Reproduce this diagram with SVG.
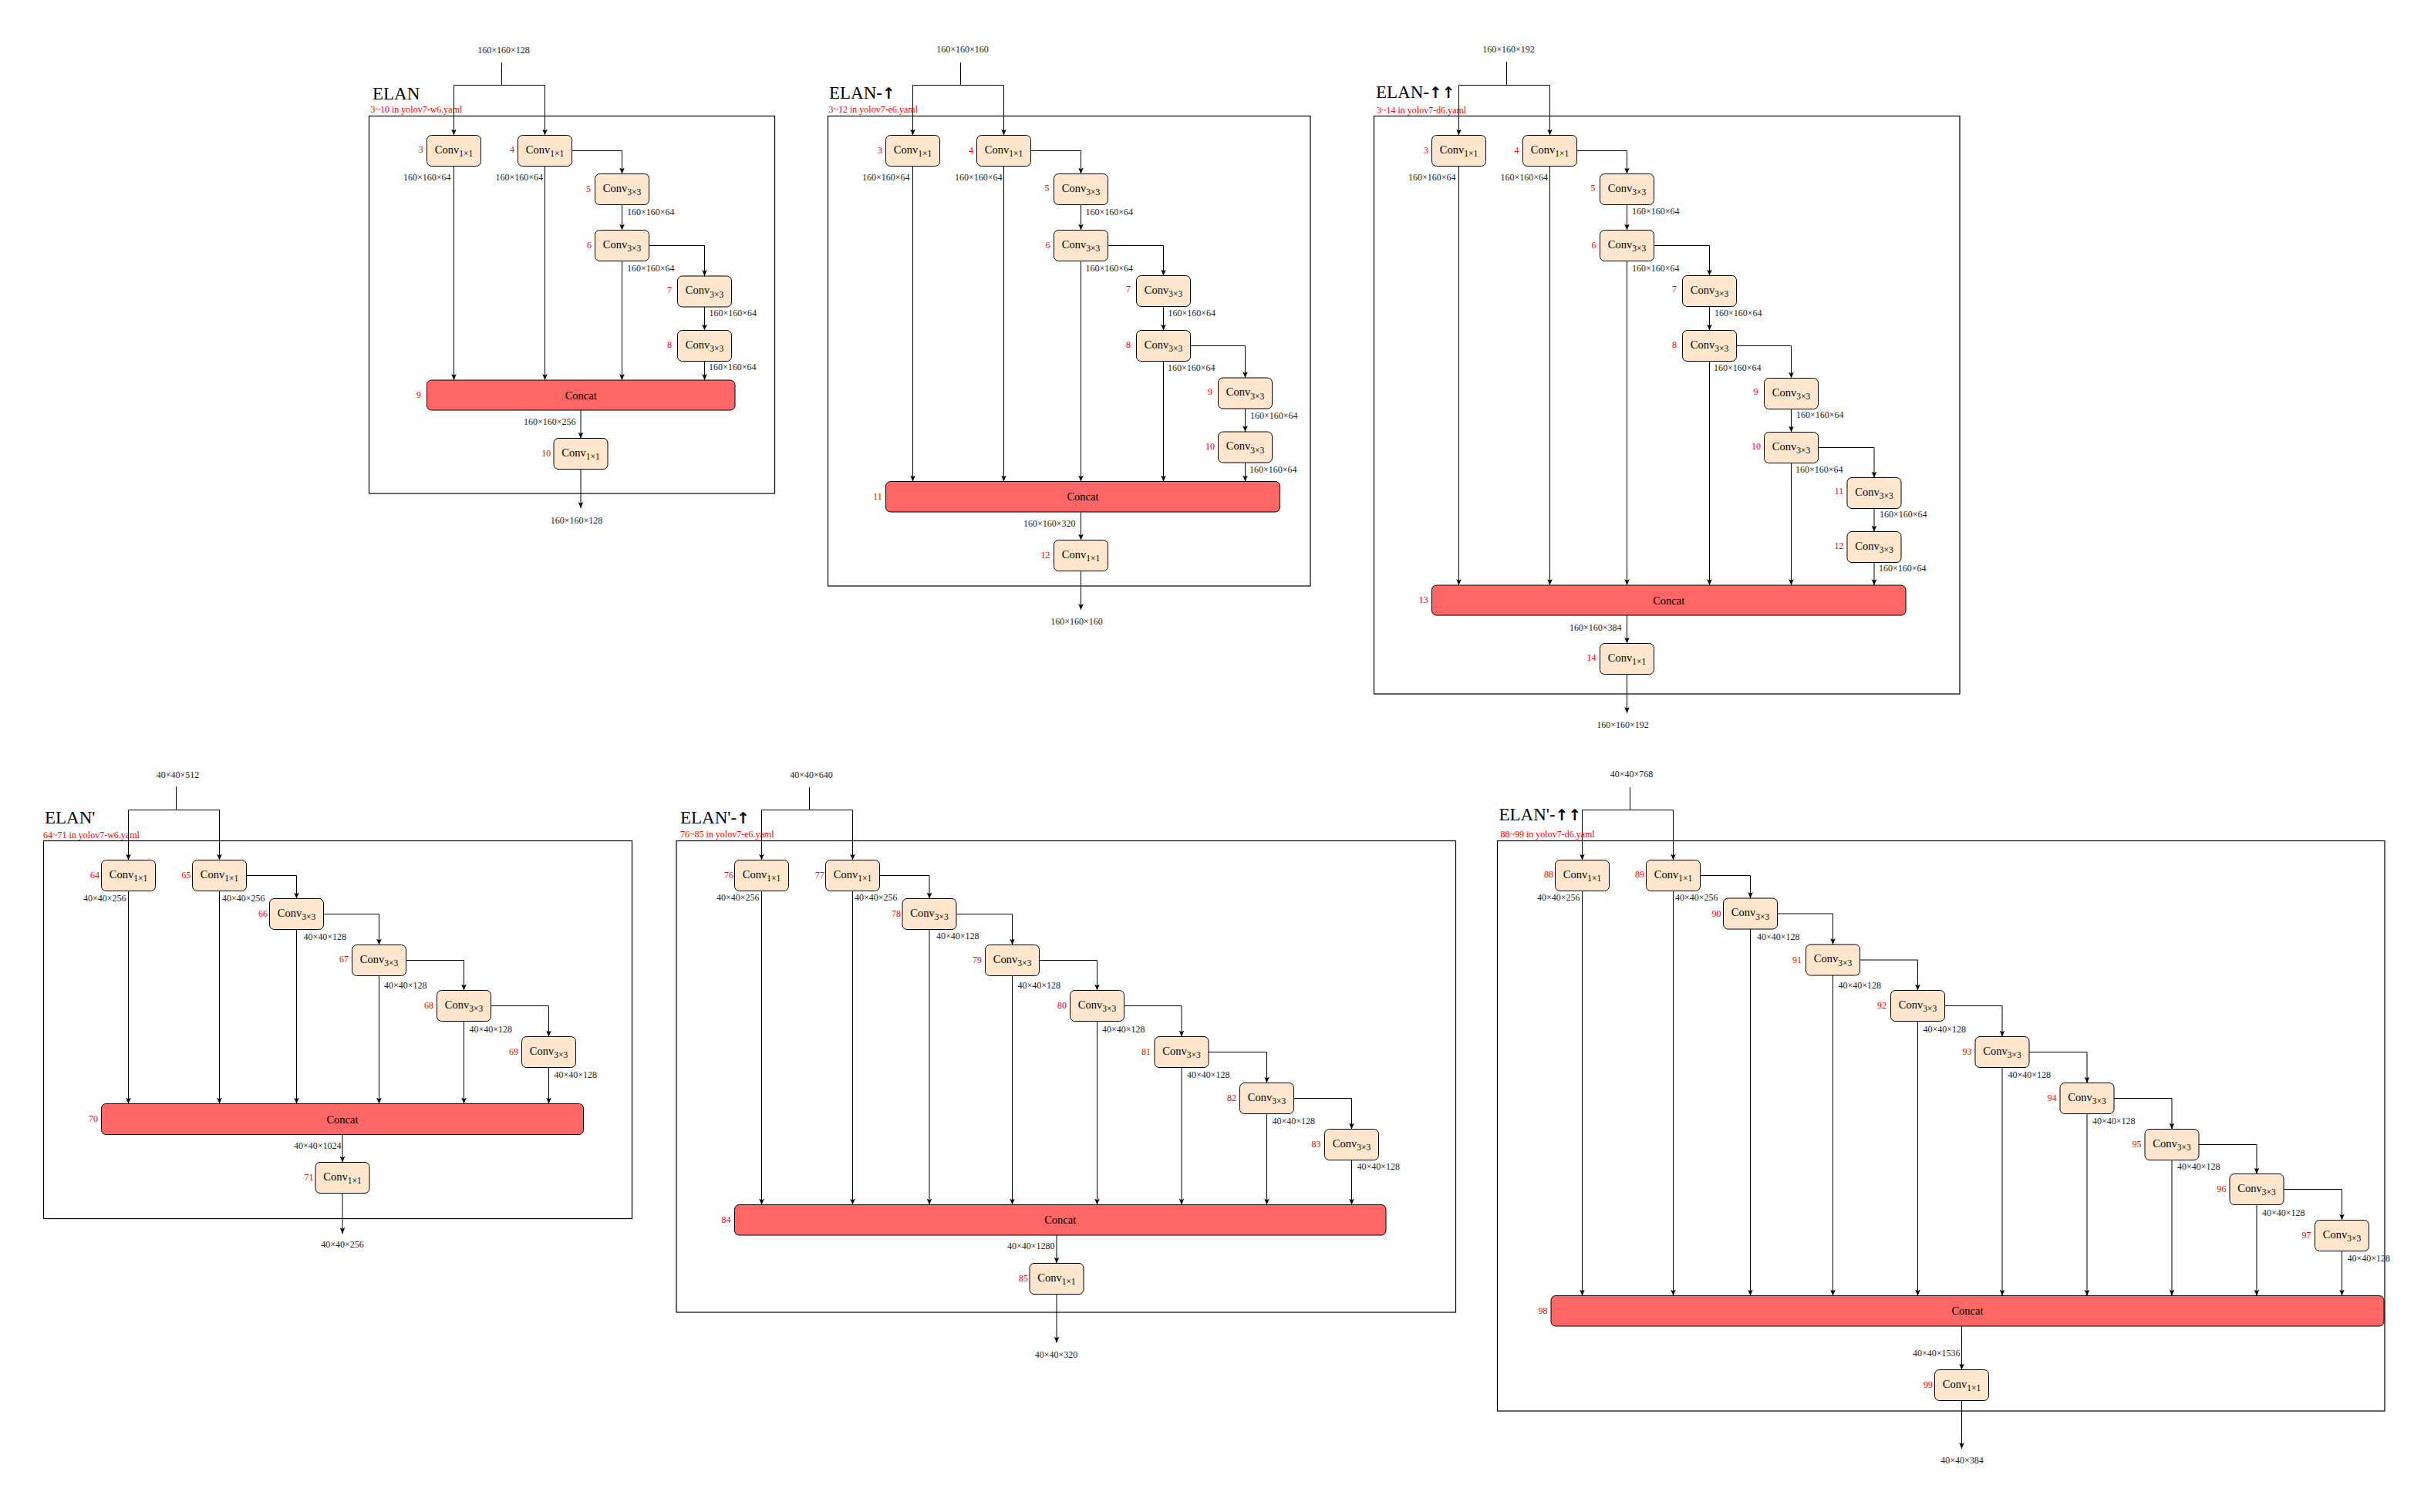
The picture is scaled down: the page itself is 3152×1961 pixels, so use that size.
<svg xmlns="http://www.w3.org/2000/svg" width="3152" height="1961" viewBox="0 0 3152 1961">
<style>
text{font-family:"Liberation Serif","Times New Roman",serif}
.bx{fill:#FFE6CC;stroke:#000;stroke-width:1}
.ct{fill:#FF6666;stroke:#000;stroke-width:1}
.pn{fill:none;stroke:#000;stroke-width:1.2}
.c{font-size:14.5px;fill:#000;text-anchor:middle}
.sb{font-size:11.5px}
.d{font-size:12px;fill:#222}
.de{font-size:12px;fill:#222;text-anchor:end}
.dm{font-size:12px;fill:#222;text-anchor:middle}
.r{font-size:12px;fill:#FF0000;text-anchor:middle}
.s{font-size:12px;fill:#FF0000}
.h{font-size:23px;fill:#000}
.ar{font-weight:bold;font-family:"DejaVu Sans",sans-serif;font-size:20px}
.e{fill:none;stroke:#000;stroke-width:1}
.a{marker-end:url(#ah)}
</style>
<defs>
<marker id="ah" viewBox="0 0 10 10" refX="10" refY="5" markerWidth="8" markerHeight="8" markerUnits="userSpaceOnUse" orient="auto"><path d="M0,0.8 L10,5 L0,9.2 L2.5,5 Z" fill="#000"/></marker>
</defs>
<rect width="3152" height="1961" fill="#fff"/>

<!-- ============ PANEL 1: ELAN ============ -->
<g id="elan">
<rect class="pn" x="478.5" y="150.5" width="526" height="489.5"/>
<text class="h" x="483" y="129">ELAN</text>
<text class="s" x="480.5" y="146">3~10 in yolov7-w6.yaml</text>
<text class="dm" x="653" y="68.5">160×160×128</text>
<text class="dm" x="747.5" y="678.5">160×160×128</text>
</g>
<g id="elan-3"><rect class="bx" x="553.5" y="175.5" width="70" height="40" rx="6"/><text class="c" x="588.5" y="198.5">Conv<tspan class="sb" dy="4.5">1×1</tspan></text><text class="r" x="545.7" y="198">3</text><text class="de" x="584.5" y="233.5">160×160×64</text></g>
<g id="elan-4"><rect class="bx" x="671.5" y="175.5" width="70" height="40" rx="6"/><text class="c" x="706.5" y="198.5">Conv<tspan class="sb" dy="4.5">1×1</tspan></text><text class="r" x="664" y="198">4</text><text class="de" x="704" y="233.5">160×160×64</text></g>
<g id="elan-5"><rect class="bx" x="771.5" y="225.5" width="70" height="40" rx="6"/><text class="c" x="806.5" y="248.5">Conv<tspan class="sb" dy="4.5">3×3</tspan></text><text class="r" x="763" y="248.5">5</text><text class="d" x="813" y="278.5">160×160×64</text></g>
<g id="elan-6"><rect class="bx" x="771.5" y="298.5" width="70" height="40" rx="6"/><text class="c" x="806.5" y="321.5">Conv<tspan class="sb" dy="4.5">3×3</tspan></text><text class="r" x="764" y="321.5">6</text><text class="d" x="813" y="351.5">160×160×64</text></g>
<g id="elan-7"><rect class="bx" x="878.5" y="358" width="70" height="40" rx="6"/><text class="c" x="913.5" y="381">Conv<tspan class="sb" dy="4.5">3×3</tspan></text><text class="r" x="868" y="379.5">7</text><text class="d" x="919.5" y="409.5">160×160×64</text></g>
<g id="elan-8"><rect class="bx" x="878.5" y="428.5" width="70" height="40" rx="6"/><text class="c" x="913.5" y="451.5">Conv<tspan class="sb" dy="4.5">3×3</tspan></text><text class="r" x="868" y="451">8</text><text class="d" x="919" y="480">160×160×64</text></g>
<g id="elan-9"><rect class="ct" x="553.5" y="493" width="399.5" height="39" rx="6"/><text class="c" x="753.25" y="517.5">Concat</text><text class="r" x="543" y="515.5">9</text><text class="de" x="746.5" y="551">160×160×256</text></g>
<g id="elan-10"><rect class="bx" x="718" y="568.5" width="70" height="40" rx="6"/><text class="c" x="753" y="591.5">Conv<tspan class="sb" dy="4.5">1×1</tspan></text><text class="r" x="708.2" y="591.5">10</text></g>

<!-- ============ PANEL 2: ELAN-↑ ============ -->
<g id="elan-up">
<rect class="pn" x="1073.5" y="150.5" width="625.5" height="609.5"/>
<text class="h" x="1075" y="127.5">ELAN-<tspan class="ar">↑</tspan></text>
<text class="s" x="1074.5" y="145.5">3~12 in yolov7-e6.yaml</text>
<text class="dm" x="1248" y="68">160×160×160</text>
<text class="dm" x="1396" y="810">160×160×160</text>
</g>
<g id="elanup-3"><rect class="bx" x="1148.5" y="175.5" width="70" height="40" rx="6"/><text class="c" x="1183.5" y="198.5">Conv<tspan class="sb" dy="4.5">1×1</tspan></text><text class="r" x="1141" y="198.5">3</text><text class="de" x="1179.5" y="233.5">160×160×64</text></g>
<g id="elanup-4"><rect class="bx" x="1266.5" y="175.5" width="70" height="40" rx="6"/><text class="c" x="1301.5" y="198.5">Conv<tspan class="sb" dy="4.5">1×1</tspan></text><text class="r" x="1259" y="198.5">4</text><text class="de" x="1299.5" y="233.5">160×160×64</text></g>
<g id="elanup-5"><rect class="bx" x="1366.5" y="225.5" width="70" height="40" rx="6"/><text class="c" x="1401.5" y="248.5">Conv<tspan class="sb" dy="4.5">3×3</tspan></text><text class="r" x="1357.5" y="248">5</text><text class="d" x="1407.5" y="278.5">160×160×64</text></g>
<g id="elanup-6"><rect class="bx" x="1366.5" y="298.5" width="70" height="40" rx="6"/><text class="c" x="1401.5" y="321.5">Conv<tspan class="sb" dy="4.5">3×3</tspan></text><text class="r" x="1358.5" y="321.5">6</text><text class="d" x="1407.5" y="351.5">160×160×64</text></g>
<g id="elanup-7"><rect class="bx" x="1473.5" y="357.5" width="70" height="40" rx="6"/><text class="c" x="1508.5" y="380.5">Conv<tspan class="sb" dy="4.5">3×3</tspan></text><text class="r" x="1463" y="379">7</text><text class="d" x="1514.5" y="409.5">160×160×64</text></g>
<g id="elanup-8"><rect class="bx" x="1473.5" y="428.5" width="70" height="40" rx="6"/><text class="c" x="1508.5" y="451.5">Conv<tspan class="sb" dy="4.5">3×3</tspan></text><text class="r" x="1463" y="451">8</text><text class="d" x="1514" y="480.5">160×160×64</text></g>
<g id="elanup-9"><rect class="bx" x="1579.5" y="490" width="70" height="40" rx="6"/><text class="c" x="1614.5" y="513">Conv<tspan class="sb" dy="4.5">3×3</tspan></text><text class="r" x="1569" y="511.5">9</text><text class="d" x="1621" y="542.5">160×160×64</text></g>
<g id="elanup-10"><rect class="bx" x="1579.5" y="560" width="70" height="40" rx="6"/><text class="c" x="1614.5" y="583">Conv<tspan class="sb" dy="4.5">3×3</tspan></text><text class="r" x="1569" y="583">10</text><text class="d" x="1620" y="612.5">160×160×64</text></g>
<g id="elanup-11"><rect class="ct" x="1148.5" y="624.5" width="511" height="39.5" rx="6"/><text class="c" x="1404" y="649">Concat</text><text class="r" x="1138" y="647.5">11</text><text class="de" x="1394.5" y="683">160×160×320</text></g>
<g id="elanup-12"><rect class="bx" x="1366.5" y="700.5" width="70" height="40" rx="6"/><text class="c" x="1401.5" y="723.5">Conv<tspan class="sb" dy="4.5">1×1</tspan></text><text class="r" x="1355.5" y="723.5">12</text></g>

<!-- ============ PANEL 3: ELAN-↑↑ ============ -->
<g id="elan-upup">
<rect class="pn" x="1781.5" y="150.5" width="759.5" height="749.5"/>
<text class="h" x="1784" y="127">ELAN-<tspan class="ar">↑↑</tspan></text>
<text class="s" x="1785" y="146.5">3~14 in yolov7-d6.yaml</text>
<text class="dm" x="1956" y="68">160×160×192</text>
<text class="dm" x="2104" y="943.5">160×160×192</text>
</g>
<g id="elanupup-3"><rect class="bx" x="1856.5" y="175.5" width="70" height="40" rx="6"/><text class="c" x="1891.5" y="198.5">Conv<tspan class="sb" dy="4.5">1×1</tspan></text><text class="r" x="1849" y="198.5">3</text><text class="de" x="1887.5" y="233.5">160×160×64</text></g>
<g id="elanupup-4"><rect class="bx" x="1974.5" y="175.5" width="70" height="40" rx="6"/><text class="c" x="2009.5" y="198.5">Conv<tspan class="sb" dy="4.5">1×1</tspan></text><text class="r" x="1966.5" y="198.5">4</text><text class="de" x="2007" y="233.5">160×160×64</text></g>
<g id="elanupup-5"><rect class="bx" x="2074.5" y="225.5" width="70" height="40" rx="6"/><text class="c" x="2109.5" y="248.5">Conv<tspan class="sb" dy="4.5">3×3</tspan></text><text class="r" x="2065.5" y="248">5</text><text class="d" x="2116" y="278">160×160×64</text></g>
<g id="elanupup-6"><rect class="bx" x="2074.5" y="298.5" width="70" height="40" rx="6"/><text class="c" x="2109.5" y="321.5">Conv<tspan class="sb" dy="4.5">3×3</tspan></text><text class="r" x="2066.5" y="321.5">6</text><text class="d" x="2116" y="351.5">160×160×64</text></g>
<g id="elanupup-7"><rect class="bx" x="2181.5" y="357.5" width="70" height="40" rx="6"/><text class="c" x="2216.5" y="380.5">Conv<tspan class="sb" dy="4.5">3×3</tspan></text><text class="r" x="2171" y="379">7</text><text class="d" x="2223" y="409.5">160×160×64</text></g>
<g id="elanupup-8"><rect class="bx" x="2181.5" y="428.5" width="70" height="40" rx="6"/><text class="c" x="2216.5" y="451.5">Conv<tspan class="sb" dy="4.5">3×3</tspan></text><text class="r" x="2171" y="451">8</text><text class="d" x="2222" y="480.5">160×160×64</text></g>
<g id="elanupup-9"><rect class="bx" x="2287.5" y="490.5" width="70" height="40" rx="6"/><text class="c" x="2322.5" y="513.5">Conv<tspan class="sb" dy="4.5">3×3</tspan></text><text class="r" x="2276.5" y="512">9</text><text class="d" x="2329" y="542">160×160×64</text></g>
<g id="elanupup-10"><rect class="bx" x="2287.5" y="560.5" width="70" height="40" rx="6"/><text class="c" x="2322.5" y="583.5">Conv<tspan class="sb" dy="4.5">3×3</tspan></text><text class="r" x="2277" y="583">10</text><text class="d" x="2328" y="612.5">160×160×64</text></g>
<g id="elanupup-11"><rect class="bx" x="2395" y="619.5" width="70" height="40" rx="6"/><text class="c" x="2430" y="642.5">Conv<tspan class="sb" dy="4.5">3×3</tspan></text><text class="r" x="2384.5" y="641">11</text><text class="d" x="2437" y="671">160×160×64</text></g>
<g id="elanupup-12"><rect class="bx" x="2395" y="689.5" width="70" height="40" rx="6"/><text class="c" x="2430" y="712.5">Conv<tspan class="sb" dy="4.5">3×3</tspan></text><text class="r" x="2384.5" y="712">12</text><text class="d" x="2436" y="741">160×160×64</text></g>
<g id="elanupup-13"><rect class="ct" x="1856.5" y="759" width="614.5" height="39" rx="6"/><text class="c" x="2163.75" y="783.5">Concat</text><text class="r" x="1845.5" y="781.5">13</text><text class="de" x="2102.5" y="817.5">160×160×384</text></g>
<g id="elanupup-14"><rect class="bx" x="2074.5" y="834.5" width="70" height="40" rx="6"/><text class="c" x="2109.5" y="857.5">Conv<tspan class="sb" dy="4.5">1×1</tspan></text><text class="r" x="2063.5" y="857">14</text></g>

<!-- ============ PANEL 4: ELAN' ============ -->
<g id="elanp">
<rect class="pn" x="56.5" y="1090.5" width="763" height="490"/>
<text class="h" x="58" y="1068">ELAN'</text>
<text class="s" x="56" y="1087">64~71 in yolov7-w6.yaml</text>
<text class="dm" x="230.5" y="1009">40×40×512</text>
<text class="dm" x="444" y="1618">40×40×256</text>
</g>
<g id="elanp-64"><rect class="bx" x="131.5" y="1115.5" width="70" height="40" rx="6"/><text class="c" x="166.5" y="1138.5">Conv<tspan class="sb" dy="4.5">1×1</tspan></text><text class="r" x="123" y="1138.5">64</text><text class="de" x="163.5" y="1168.5">40×40×256</text></g>
<g id="elanp-65"><rect class="bx" x="249.5" y="1115.5" width="70" height="40" rx="6"/><text class="c" x="284.5" y="1138.5">Conv<tspan class="sb" dy="4.5">1×1</tspan></text><text class="r" x="241.5" y="1138.5">65</text><text class="d" x="288" y="1168.5">40×40×256</text></g>
<g id="elanp-66"><rect class="bx" x="349.5" y="1165.5" width="70" height="40" rx="6"/><text class="c" x="384.5" y="1188.5">Conv<tspan class="sb" dy="4.5">3×3</tspan></text><text class="r" x="341" y="1188.5">66</text><text class="d" x="393.5" y="1218.5">40×40×128</text></g>
<g id="elanp-67"><rect class="bx" x="456.5" y="1225.5" width="70" height="40" rx="6"/><text class="c" x="491.5" y="1248.5">Conv<tspan class="sb" dy="4.5">3×3</tspan></text><text class="r" x="446" y="1248">67</text><text class="d" x="498" y="1281.5">40×40×128</text></g>
<g id="elanp-68"><rect class="bx" x="566.5" y="1284.5" width="70" height="40" rx="6"/><text class="c" x="601.5" y="1307.5">Conv<tspan class="sb" dy="4.5">3×3</tspan></text><text class="r" x="556" y="1308">68</text><text class="d" x="608.5" y="1338.5">40×40×128</text></g>
<g id="elanp-69"><rect class="bx" x="676.5" y="1344.5" width="70" height="40" rx="6"/><text class="c" x="711.5" y="1367.5">Conv<tspan class="sb" dy="4.5">3×3</tspan></text><text class="r" x="666" y="1367.5">69</text><text class="d" x="718.5" y="1397.5">40×40×128</text></g>
<g id="elanp-70"><rect class="ct" x="131.5" y="1431.5" width="625" height="40" rx="6"/><text class="c" x="444" y="1456.5">Concat</text><text class="r" x="121" y="1455">70</text><text class="de" x="442.5" y="1489.5">40×40×1024</text></g>
<g id="elanp-71"><rect class="bx" x="409" y="1507.5" width="70" height="40" rx="6"/><text class="c" x="444" y="1530.5">Conv<tspan class="sb" dy="4.5">1×1</tspan></text><text class="r" x="400.5" y="1530.5">71</text></g>

<!-- ============ PANEL 5: ELAN'-↑ ============ -->
<g id="elanp-up">
<rect class="pn" x="877" y="1090.5" width="1010.5" height="611.5"/>
<text class="h" x="882" y="1067.5">ELAN'-<tspan class="ar">↑</tspan></text>
<text class="s" x="882" y="1086">76~85 in yolov7-e6.yaml</text>
<text class="dm" x="1052" y="1008.5">40×40×640</text>
<text class="dm" x="1369.5" y="1760.5">40×40×320</text>
</g>
<g id="elanpup-76"><rect class="bx" x="952.5" y="1115.5" width="70" height="40" rx="6"/><text class="c" x="987.5" y="1138.5">Conv<tspan class="sb" dy="4.5">1×1</tspan></text><text class="r" x="945" y="1138.5">76</text><text class="de" x="984.5" y="1168">40×40×256</text></g>
<g id="elanpup-77"><rect class="bx" x="1070.5" y="1115.5" width="70" height="40" rx="6"/><text class="c" x="1105.5" y="1138.5">Conv<tspan class="sb" dy="4.5">1×1</tspan></text><text class="r" x="1063" y="1138.5">77</text><text class="d" x="1108" y="1168">40×40×256</text></g>
<g id="elanpup-78"><rect class="bx" x="1170" y="1165.5" width="70" height="40" rx="6"/><text class="c" x="1205" y="1188.5">Conv<tspan class="sb" dy="4.5">3×3</tspan></text><text class="r" x="1162" y="1188.5">78</text><text class="d" x="1214" y="1218">40×40×128</text></g>
<g id="elanpup-79"><rect class="bx" x="1277.5" y="1225.5" width="70" height="40" rx="6"/><text class="c" x="1312.5" y="1248.5">Conv<tspan class="sb" dy="4.5">3×3</tspan></text><text class="r" x="1267" y="1248.5">79</text><text class="d" x="1319.5" y="1281.5">40×40×128</text></g>
<g id="elanpup-80"><rect class="bx" x="1387.5" y="1284.5" width="70" height="40" rx="6"/><text class="c" x="1422.5" y="1307.5">Conv<tspan class="sb" dy="4.5">3×3</tspan></text><text class="r" x="1377" y="1307.5">80</text><text class="d" x="1429" y="1338.5">40×40×128</text></g>
<g id="elanpup-81"><rect class="bx" x="1497" y="1344.5" width="70" height="40" rx="6"/><text class="c" x="1532" y="1367.5">Conv<tspan class="sb" dy="4.5">3×3</tspan></text><text class="r" x="1486" y="1367.5">81</text><text class="d" x="1539" y="1397.5">40×40×128</text></g>
<g id="elanpup-82"><rect class="bx" x="1607.5" y="1404.5" width="70" height="40" rx="6"/><text class="c" x="1642.5" y="1427.5">Conv<tspan class="sb" dy="4.5">3×3</tspan></text><text class="r" x="1597" y="1428">82</text><text class="d" x="1649.5" y="1458">40×40×128</text></g>
<g id="elanpup-83"><rect class="bx" x="1717.5" y="1464.5" width="70" height="40" rx="6"/><text class="c" x="1752.5" y="1487.5">Conv<tspan class="sb" dy="4.5">3×3</tspan></text><text class="r" x="1706.5" y="1487.5">83</text><text class="d" x="1759.5" y="1517">40×40×128</text></g>
<g id="elanpup-84"><rect class="ct" x="952.5" y="1562.5" width="844.5" height="39.5" rx="6"/><text class="c" x="1374.75" y="1587">Concat</text><text class="r" x="941.5" y="1586">84</text><text class="de" x="1367.5" y="1620">40×40×1280</text></g>
<g id="elanpup-85"><rect class="bx" x="1335" y="1638.5" width="70" height="40" rx="6"/><text class="c" x="1370" y="1661.5">Conv<tspan class="sb" dy="4.5">1×1</tspan></text><text class="r" x="1327" y="1661.5">85</text></g>

<!-- ============ PANEL 6: ELAN'-↑↑ ============ -->
<g id="elanp-upup">
<rect class="pn" x="1941.5" y="1090.5" width="1150.5" height="739.5"/>
<text class="h" x="1943.5" y="1063.5">ELAN'-<tspan class="ar">↑↑</tspan></text>
<text class="s" x="1945.5" y="1086">88~99 in yolov7-d6.yaml</text>
<text class="dm" x="2115.5" y="1008">40×40×768</text>
<text class="dm" x="2544" y="1898">40×40×384</text>
</g>
<g id="elanpupup-88"><rect class="bx" x="2016.5" y="1115.5" width="70" height="40" rx="6"/><text class="c" x="2051.5" y="1138.5">Conv<tspan class="sb" dy="4.5">1×1</tspan></text><text class="r" x="2008" y="1138">88</text><text class="de" x="2048.5" y="1168">40×40×256</text></g>
<g id="elanpupup-89"><rect class="bx" x="2134.5" y="1115.5" width="70" height="40" rx="6"/><text class="c" x="2169.5" y="1138.5">Conv<tspan class="sb" dy="4.5">1×1</tspan></text><text class="r" x="2126" y="1138">89</text><text class="d" x="2172" y="1168">40×40×256</text></g>
<g id="elanpupup-90"><rect class="bx" x="2234.5" y="1165" width="70" height="40" rx="6"/><text class="c" x="2269.5" y="1188">Conv<tspan class="sb" dy="4.5">3×3</tspan></text><text class="r" x="2225.5" y="1188.5">90</text><text class="d" x="2278" y="1218.5">40×40×128</text></g>
<g id="elanpupup-91"><rect class="bx" x="2341.5" y="1225" width="70" height="40" rx="6"/><text class="c" x="2376.5" y="1248">Conv<tspan class="sb" dy="4.5">3×3</tspan></text><text class="r" x="2330" y="1248.5">91</text><text class="d" x="2383.5" y="1281.5">40×40×128</text></g>
<g id="elanpupup-92"><rect class="bx" x="2451.5" y="1284.5" width="70" height="40" rx="6"/><text class="c" x="2486.5" y="1307.5">Conv<tspan class="sb" dy="4.5">3×3</tspan></text><text class="r" x="2440" y="1307.5">92</text><text class="d" x="2493.5" y="1338.5">40×40×128</text></g>
<g id="elanpupup-93"><rect class="bx" x="2561" y="1344.5" width="70" height="40" rx="6"/><text class="c" x="2596" y="1367.5">Conv<tspan class="sb" dy="4.5">3×3</tspan></text><text class="r" x="2550.5" y="1367.5">93</text><text class="d" x="2603.5" y="1397.5">40×40×128</text></g>
<g id="elanpupup-94"><rect class="bx" x="2671" y="1404.5" width="70" height="40" rx="6"/><text class="c" x="2706" y="1427.5">Conv<tspan class="sb" dy="4.5">3×3</tspan></text><text class="r" x="2660.5" y="1427.5">94</text><text class="d" x="2713" y="1458">40×40×128</text></g>
<g id="elanpupup-95"><rect class="bx" x="2781" y="1464.5" width="70" height="40" rx="6"/><text class="c" x="2816" y="1487.5">Conv<tspan class="sb" dy="4.5">3×3</tspan></text><text class="r" x="2770.5" y="1487.5">95</text><text class="d" x="2823" y="1517">40×40×128</text></g>
<g id="elanpupup-96"><rect class="bx" x="2891" y="1522.5" width="70" height="40" rx="6"/><text class="c" x="2926" y="1545.5">Conv<tspan class="sb" dy="4.5">3×3</tspan></text><text class="r" x="2880.5" y="1545.5">96</text><text class="d" x="2933" y="1576.5">40×40×128</text></g>
<g id="elanpupup-97"><rect class="bx" x="3001.5" y="1582.5" width="70" height="40" rx="6"/><text class="c" x="3036.5" y="1605.5">Conv<tspan class="sb" dy="4.5">3×3</tspan></text><text class="r" x="2990.5" y="1605.5">97</text><text class="d" x="3043.5" y="1635.5">40×40×128</text></g>
<g id="elanpupup-98"><rect class="ct" x="2011" y="1680.5" width="1080" height="39.5" rx="6"/><text class="c" x="2551" y="1705">Concat</text><text class="r" x="2000.5" y="1703.5">98</text><text class="de" x="2541.5" y="1758.5">40×40×1536</text></g>
<g id="elanpupup-99"><rect class="bx" x="2508.5" y="1776.5" width="70" height="40" rx="6"/><text class="c" x="2543.5" y="1799.5">Conv<tspan class="sb" dy="4.5">1×1</tspan></text><text class="r" x="2500" y="1799.5">99</text></g>

<!-- ============ CONNECTORS ============ -->
<g id="connectors">
<!-- panel 1 -->
<path class="e" d="M650.5,81 V110.5 M588.5,110.5 H706.5"/>
<path class="e a" d="M588.5,110.5 V175.5"/>
<path class="e a" d="M706.5,110.5 V175.5"/>
<path class="e a" d="M588.5,215.5 V493"/>
<path class="e a" d="M706.5,215.5 V493"/>
<path class="e a" d="M741.5,195.5 H806.5 V225.5"/>
<path class="e a" d="M806.5,265.5 V298.5"/>
<path class="e a" d="M806.5,338.5 V493"/>
<path class="e a" d="M841.5,318.5 H913.5 V358"/>
<path class="e a" d="M913.5,398 V428.5"/>
<path class="e a" d="M913.5,468.5 V493"/>
<path class="e a" d="M753,532 V568.5"/>
<path class="e a" d="M753,608.5 V659"/>
<!-- panel 2 -->
<path class="e" d="M1245.5,81 V110.5 M1183.5,110.5 H1301.5"/>
<path class="e a" d="M1183.5,110.5 V175.5"/>
<path class="e a" d="M1301.5,110.5 V175.5"/>
<path class="e a" d="M1183.5,215.5 V624.5"/>
<path class="e a" d="M1301.5,215.5 V624.5"/>
<path class="e a" d="M1336.5,195.5 H1401.5 V225.5"/>
<path class="e a" d="M1401.5,265.5 V298.5"/>
<path class="e a" d="M1401.5,338.5 V624.5"/>
<path class="e a" d="M1436.5,318.5 H1508.5 V357.5"/>
<path class="e a" d="M1508.5,397.5 V428.5"/>
<path class="e a" d="M1508.5,468.5 V624.5"/>
<path class="e a" d="M1543.5,448.5 H1614.5 V490"/>
<path class="e a" d="M1614.5,530 V560"/>
<path class="e a" d="M1614.5,600 V624.5"/>
<path class="e a" d="M1401.5,664 V700.5"/>
<path class="e a" d="M1401.5,740.5 V791"/>
<!-- panel 3 -->
<path class="e" d="M1953.5,80 V110.5 M1891.5,110.5 H2009.5"/>
<path class="e a" d="M1891.5,110.5 V175.5"/>
<path class="e a" d="M2009.5,110.5 V175.5"/>
<path class="e a" d="M1891.5,215.5 V759"/>
<path class="e a" d="M2009.5,215.5 V759"/>
<path class="e a" d="M2044.5,195.5 H2109.5 V225.5"/>
<path class="e a" d="M2109.5,265.5 V298.5"/>
<path class="e a" d="M2109.5,338.5 V759"/>
<path class="e a" d="M2144.5,318.5 H2216.5 V357.5"/>
<path class="e a" d="M2216.5,397.5 V428.5"/>
<path class="e a" d="M2216.5,468.5 V759"/>
<path class="e a" d="M2251.5,448.5 H2322.5 V490.5"/>
<path class="e a" d="M2322.5,530.5 V560.5"/>
<path class="e a" d="M2322.5,600.5 V759"/>
<path class="e a" d="M2357.5,580.5 H2430 V619.5"/>
<path class="e a" d="M2430,659.5 V689.5"/>
<path class="e a" d="M2430,729.5 V759"/>
<path class="e a" d="M2109.5,798 V834.5"/>
<path class="e a" d="M2109.5,874.5 V925"/>
<!-- panel 4 -->
<path class="e" d="M228.5,1020 V1050.5 M166.5,1050.5 H284.5"/>
<path class="e a" d="M166.5,1050.5 V1115.5"/>
<path class="e a" d="M284.5,1050.5 V1115.5"/>
<path class="e a" d="M166.5,1155.5 V1431.5"/>
<path class="e a" d="M284.5,1155.5 V1431.5"/>
<path class="e a" d="M319.5,1135.5 H384.5 V1165.5"/>
<path class="e a" d="M384.5,1205.5 V1431.5"/>
<path class="e a" d="M419.5,1185.5 H491.5 V1225.5"/>
<path class="e a" d="M491.5,1265.5 V1431.5"/>
<path class="e a" d="M526.5,1245.5 H601.5 V1284.5"/>
<path class="e a" d="M601.5,1324.5 V1431.5"/>
<path class="e a" d="M636.5,1304.5 H711.5 V1344.5"/>
<path class="e a" d="M711.5,1384.5 V1431.5"/>
<path class="e a" d="M444,1471.5 V1507.5"/>
<path class="e a" d="M444,1547.5 V1600"/>
<!-- panel 5 -->
<path class="e" d="M1049.5,1021 V1050.5 M987.5,1050.5 H1105.5"/>
<path class="e a" d="M987.5,1050.5 V1115.5"/>
<path class="e a" d="M1105.5,1050.5 V1115.5"/>
<path class="e a" d="M987.5,1155.5 V1562.5"/>
<path class="e a" d="M1105.5,1155.5 V1562.5"/>
<path class="e a" d="M1140.5,1135.5 H1205 V1165.5"/>
<path class="e a" d="M1205,1205.5 V1562.5"/>
<path class="e a" d="M1240,1185.5 H1312.5 V1225.5"/>
<path class="e a" d="M1312.5,1265.5 V1562.5"/>
<path class="e a" d="M1347.5,1245.5 H1422.5 V1284.5"/>
<path class="e a" d="M1422.5,1324.5 V1562.5"/>
<path class="e a" d="M1457.5,1304.5 H1532 V1344.5"/>
<path class="e a" d="M1532,1384.5 V1562.5"/>
<path class="e a" d="M1567,1364.5 H1642.5 V1404.5"/>
<path class="e a" d="M1642.5,1444.5 V1562.5"/>
<path class="e a" d="M1677.5,1424.5 H1752.5 V1464.5"/>
<path class="e a" d="M1752.5,1504.5 V1562.5"/>
<path class="e a" d="M1370,1602 V1638.5"/>
<path class="e a" d="M1370,1678.5 V1741.5"/>
<!-- panel 6 -->
<path class="e" d="M2113.5,1021 V1050.5 M2051.5,1050.5 H2169.5"/>
<path class="e a" d="M2051.5,1050.5 V1115.5"/>
<path class="e a" d="M2169.5,1050.5 V1115.5"/>
<path class="e a" d="M2051.5,1155.5 V1680.5"/>
<path class="e a" d="M2169.5,1155.5 V1680.5"/>
<path class="e a" d="M2204.5,1135.5 H2269.5 V1165"/>
<path class="e a" d="M2269.5,1205 V1680.5"/>
<path class="e a" d="M2304.5,1185 H2376.5 V1225"/>
<path class="e a" d="M2376.5,1265 V1680.5"/>
<path class="e a" d="M2411.5,1245 H2486.5 V1284.5"/>
<path class="e a" d="M2486.5,1324.5 V1680.5"/>
<path class="e a" d="M2521.5,1304.5 H2596 V1344.5"/>
<path class="e a" d="M2596,1384.5 V1680.5"/>
<path class="e a" d="M2631,1364.5 H2706 V1404.5"/>
<path class="e a" d="M2706,1444.5 V1680.5"/>
<path class="e a" d="M2741,1424.5 H2816 V1464.5"/>
<path class="e a" d="M2816,1504.5 V1680.5"/>
<path class="e a" d="M2851,1484.5 H2926 V1522.5"/>
<path class="e a" d="M2926,1562.5 V1680.5"/>
<path class="e a" d="M2961,1542.5 H3036.5 V1582.5"/>
<path class="e a" d="M3036.5,1622.5 V1680.5"/>
<path class="e a" d="M2543.5,1720 V1776.5"/>
<path class="e a" d="M2543.5,1816.5 V1879"/>
</g>
</svg>
